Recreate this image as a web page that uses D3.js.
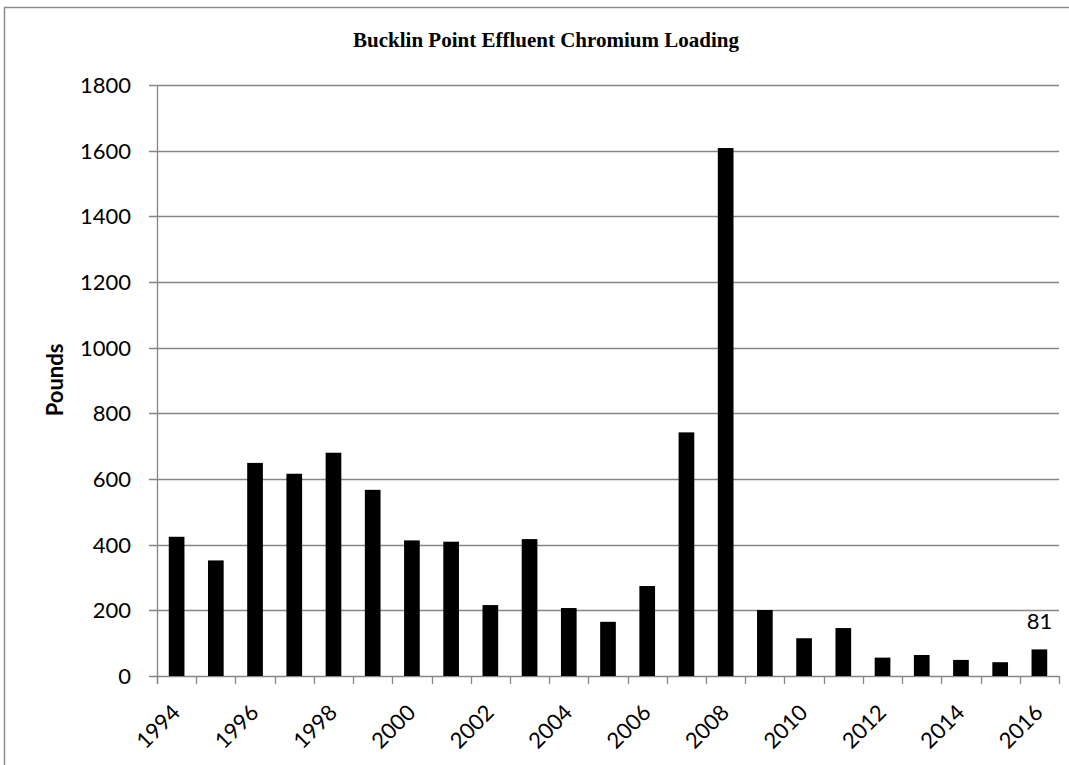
<!DOCTYPE html>
<html>
<head>
<meta charset="utf-8">
<script src="https://cdn.jsdelivr.net/npm/d3@7"></script>
<style>
  html, body { margin: 0; padding: 0; background: #fff; }
  svg { display: block; }
</style>
</head>
<body>
<svg id="chart" width="1069" height="765"></svg>
<script>
const years = ["1994","1995","1996","1997","1998","1999","2000","2001","2002","2003","2004","2005","2006","2007","2008","2009","2010","2011","2012","2013","2014","2015","2016"];
const pounds = [424, 352, 649, 616, 680, 567, 413, 409, 216, 417, 207, 165, 274, 742, 1608, 201, 115, 146, 56, 64, 49, 42, 81];
const yTicks = [0, 200, 400, 600, 800, 1000, 1200, 1400, 1600, 1800];
const xLabelYears = ["1994","1996","1998","2000","2002","2004","2006","2008","2010","2012","2014","2016"];
const labelledYears = ["2016"];
const titleText = "Bucklin Point Effluent Chromium Loading";
const yAxisTitle = "Pounds";

(function () {
const svg = d3.select("#chart");
const pLeft = 157, pRight = 1059, pTop = 85, pBottom = 676;
const gridColor = "#868686";

// outer frame (left and top edges visible)
svg.append("line").attr("x1", 4.5).attr("x2", 4.5).attr("y1", 7).attr("y2", 765)
  .attr("stroke", "#8c8c8c").attr("stroke-width", 1.5);
svg.append("line").attr("x1", 4).attr("x2", 1069).attr("y1", 7.5).attr("y2", 7.5)
  .attr("stroke", "#8c8c8c").attr("stroke-width", 1.5);

const x = d3.scaleBand().domain(years).range([pLeft, pRight]).paddingInner(0.6).paddingOuter(0.3);
const y = d3.scaleLinear().domain([0, 1800]).range([pBottom, pTop]);

// gridlines + y ticks
const gy = svg.append("g");
yTicks.forEach(t => {
  gy.append("line").attr("x1", pLeft - 8).attr("x2", pRight)
    .attr("y1", Math.round(y(t)) + 0.5).attr("y2", Math.round(y(t)) + 0.5)
    .attr("stroke", gridColor).attr("stroke-width", 1.3);
  gy.append("text").attr("x", 131).attr("y", y(t)).attr("dy", "0.36em")
    .attr("text-anchor", "end")
    .style("font-family", "Lato, 'Open Sans', sans-serif").style("font-size", "22px")
    .attr("fill", "#000").text(t);
});

// y axis line
svg.append("line").attr("x1", pLeft + 0.5).attr("x2", pLeft + 0.5).attr("y1", pTop).attr("y2", pBottom + 8)
  .attr("stroke", gridColor).attr("stroke-width", 1.3);

// x ticks at category boundaries
const step = x.step();
const boundaries = years.map(d => x(d) - step * 0.3).concat([pRight]);
boundaries.forEach(b => {
  svg.append("line").attr("x1", Math.round(b) + 0.5).attr("x2", Math.round(b) + 0.5)
    .attr("y1", pBottom).attr("y2", pBottom + 8)
    .attr("stroke", gridColor).attr("stroke-width", 1.3);
});

// bars
svg.append("g").selectAll("rect").data(years).join("rect")
  .attr("x", d => x(d)).attr("width", x.bandwidth())
  .attr("y", (d, i) => y(pounds[i])).attr("height", (d, i) => y(0) - y(pounds[i]))
  .attr("fill", "#000");

// data label
labelledYears.forEach(yr => {
  const i = years.indexOf(yr);
  svg.append("text").attr("x", x(yr) + x.bandwidth() / 2).attr("y", y(pounds[i]) - 20)
    .attr("text-anchor", "middle")
    .style("font-family", "Lato, 'Open Sans', sans-serif").style("font-size", "22px")
    .text(pounds[i]);
});

// x labels
xLabelYears.forEach(yr => {
  const cx = x(yr) + x.bandwidth() / 2;
  svg.append("text")
    .attr("transform", `translate(${cx + 5},${pBottom + 38}) rotate(-45)`)
    .attr("text-anchor", "end")
    .style("font-family", "Lato, 'Open Sans', sans-serif").style("font-size", "22px")
    .text(yr);
});

// title
svg.append("text").attr("x", 546).attr("y", 47).attr("text-anchor", "middle")
  .style("font-family", "'Liberation Serif', 'Times New Roman', serif")
  .style("font-weight", "bold").style("font-size", "21px")
  .text(titleText);

// y axis title
svg.append("text").attr("transform", "translate(63,380) rotate(-90)")
  .attr("text-anchor", "middle")
  .style("font-family", "Lato, 'Open Sans', sans-serif")
  .style("font-weight", "bold").style("font-size", "22px")
  .text(yAxisTitle);
})();
</script>
</body>
</html>
